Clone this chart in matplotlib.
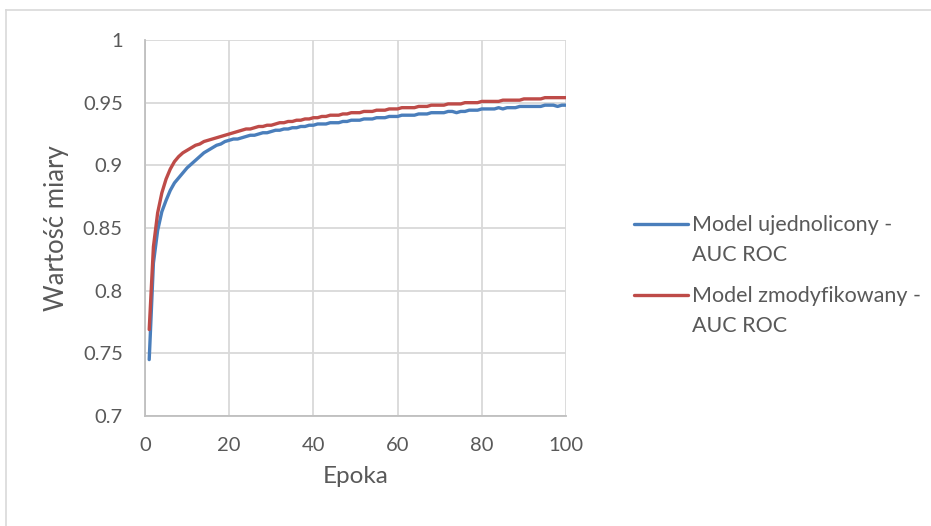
import matplotlib.pyplot as plt
from matplotlib.lines import Line2D
from matplotlib.legend_handler import HandlerLine2D

epoki = list(range(1, 101))

ujednolicony = [
    0.745, 0.822, 0.848, 0.863, 0.872, 0.880, 0.886, 0.890, 0.894, 0.898,
    0.901, 0.904, 0.907, 0.910, 0.912, 0.914, 0.916, 0.917, 0.919, 0.920,
    0.921, 0.921, 0.922, 0.923, 0.924, 0.924, 0.925, 0.926, 0.926, 0.927,
    0.928, 0.928, 0.929, 0.929, 0.930, 0.930, 0.931, 0.931, 0.932, 0.932,
    0.933, 0.933, 0.933, 0.934, 0.934, 0.934, 0.935, 0.935, 0.936, 0.936,
    0.936, 0.937, 0.937, 0.937, 0.938, 0.938, 0.938, 0.939, 0.939, 0.939,
    0.940, 0.940, 0.940, 0.940, 0.941, 0.941, 0.941, 0.942, 0.942, 0.942,
    0.942, 0.943, 0.943, 0.942, 0.943, 0.943, 0.944, 0.944, 0.944, 0.945,
    0.945, 0.945, 0.945, 0.946, 0.945, 0.946, 0.946, 0.946, 0.947, 0.947,
    0.947, 0.947, 0.947, 0.947, 0.948, 0.948, 0.948, 0.947, 0.948, 0.948,
]

zmodyfikowany = [
    0.769, 0.835, 0.862, 0.878, 0.889, 0.897, 0.903, 0.907, 0.910, 0.912,
    0.914, 0.916, 0.917, 0.919, 0.920, 0.921, 0.922, 0.923, 0.924, 0.925,
    0.926, 0.927, 0.928, 0.929, 0.929, 0.930, 0.931, 0.931, 0.932, 0.932,
    0.933, 0.934, 0.934, 0.935, 0.935, 0.936, 0.936, 0.937, 0.937, 0.938,
    0.938, 0.939, 0.939, 0.940, 0.940, 0.940, 0.941, 0.941, 0.942, 0.942,
    0.942, 0.943, 0.943, 0.943, 0.944, 0.944, 0.944, 0.945, 0.945, 0.945,
    0.946, 0.946, 0.946, 0.946, 0.947, 0.947, 0.947, 0.948, 0.948, 0.948,
    0.948, 0.949, 0.949, 0.949, 0.949, 0.950, 0.950, 0.950, 0.950, 0.951,
    0.951, 0.951, 0.951, 0.951, 0.952, 0.952, 0.952, 0.952, 0.952, 0.953,
    0.953, 0.953, 0.953, 0.953, 0.954, 0.954, 0.954, 0.954, 0.954, 0.954,
]

yticks = [0.7, 0.75, 0.8, 0.85, 0.9, 0.95, 1]
ytick_labels = ["0.7", "0.75", "0.8", "0.85", "0.9", "0.95", "1"]
xticks = [0, 20, 40, 60, 80, 100]


class TopLineHandler(HandlerLine2D):
    # linia w legendzie na wysokości pierwszego wiersza etykiety
    def create_artists(self, legend, orig_handle, xdescent, ydescent,
                       width, height, fontsize, trans):
        artists = super().create_artists(legend, orig_handle, xdescent, ydescent,
                                         width, height, fontsize, trans)
        for a in artists:
            a.set_ydata([y + 12 for y in a.get_ydata()])
        return artists


plt.rcParams["font.family"] = ["Lato", "DejaVu Sans"]
text_color = "#595959"

fig = plt.figure(figsize=(9.31, 5.26), dpi=100)
ax = fig.add_axes([145 / 931, 110 / 526, 421 / 931, 376 / 526])

ax.plot(epoki, ujednolicony, color="#4a7ebb", linewidth=2.4,
        solid_capstyle="round", label="Model ujednolicony -\nAUC ROC")
ax.plot(epoki, zmodyfikowany, color="#be4b48", linewidth=2.4,
        solid_capstyle="round", label="Model zmodyfikowany -\nAUC ROC")

ax.set_xlim(0, 100)
ax.set_ylim(0.7, 1)
ax.set_xticks(xticks)
ax.set_yticks(yticks)
ax.set_yticklabels(ytick_labels)
ax.grid(True, color="#d9d9d9", linewidth=1.3)
ax.set_axisbelow(True)
ax.tick_params(length=0, labelsize=14.5, colors=text_color)
ax.tick_params(axis="y", pad=16)
ax.tick_params(axis="x", pad=15)
for s in ["top", "right"]:
    ax.spines[s].set_visible(False)
for s in ["left", "bottom"]:
    ax.spines[s].set_color("#bfbfbf")
    ax.spines[s].set_linewidth(1.3)

ax.set_xlabel("Epoka", fontsize=17.5, color=text_color, labelpad=9)
ax.set_ylabel("Wartość miary", fontsize=18.5, color=text_color, labelpad=10)

leg = ax.legend(loc="center left", bbox_to_anchor=(1.116, 0.374), frameon=False,
                fontsize=15.5, handlelength=2.5, handletextpad=0.2,
                labelspacing=1.0, labelcolor=text_color,
                handler_map={Line2D: TopLineHandler()})
for t in leg.get_texts():
    t.set_linespacing(1.6)

# ramka wykresu (widoczna tylko z lewej i od góry)
fig.add_artist(Line2D([6 / 931, 6 / 931], [0, 1 - 10 / 526],
                      transform=fig.transFigure, color="#d9d9d9", linewidth=1.2))
fig.add_artist(Line2D([6 / 931, 1], [1 - 10 / 526, 1 - 10 / 526],
                      transform=fig.transFigure, color="#d9d9d9", linewidth=1.2))

fig.savefig("out.png", dpi=100)
